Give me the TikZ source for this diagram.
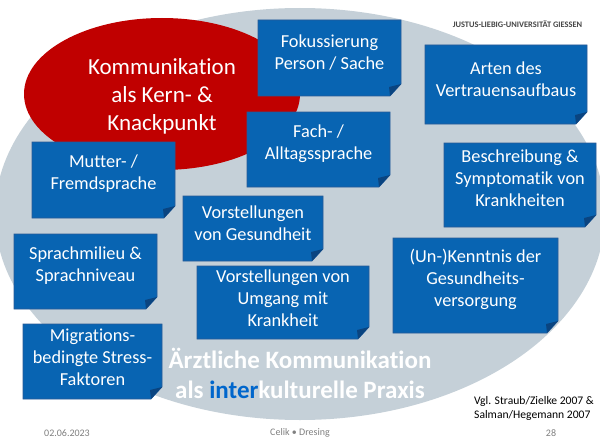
\documentclass[tikz,border=0pt]{standalone}
\usepackage{fontspec}
\setmainfont{Carlito}[Ligatures={NoCommon}]
\definecolor{bggrey}{RGB}{197,208,216}
\definecolor{kernred}{RGB}{192,0,0}
\definecolor{boxblue}{RGB}{8,100,178}
\definecolor{boxedge}{RGB}{40,90,150}
\definecolor{folddark}{RGB}{10,68,128}
\definecolor{interblue}{RGB}{0,102,204}
\definecolor{footgrey}{RGB}{128,128,128}
\definecolor{headgrey}{RGB}{70,70,70}
\tikzset{
  btext/.style={text=white, align=center, inner sep=0pt, font=\fontsize{18.3}{22}\selectfont},
  boxshape/.style={fill=boxblue, draw=boxedge, line width=0.6pt},
  foldshape/.style={fill=folddark},
  foot/.style={text=footgrey, inner sep=0pt, font=\fontsize{10}{12}\selectfont}
}
\newcommand{\foldbox}[7]{%
  \path[boxshape] (#2,#3) -- (#4,#3) -- (#4,#5-12) -- (#4-11,#5) -- (#2,#5) -- cycle;
  \path[foldshape] (#4,#5-12) -- (#4-12,#5-9) -- (#4-11,#5) -- cycle;
  \node[btext] (#1) at ({(#2+#4)/2},#6) {#7};
}
\begin{document}
\begin{tikzpicture}[x=1pt,y=-1pt]
\useasboundingbox (0,0) rectangle (600,444);
\fill[white] (0,0) rectangle (600,444);
\clip (0,0) rectangle (600,444);
% big grey ellipse
\fill[bggrey] (300,214) ellipse [x radius=305, y radius=206];
% red ellipse
\fill[kernred] (162,94) ellipse [x radius=138, y radius=76];
\node[text=white, align=center, inner sep=0pt, font=\fontsize{23}{28}\selectfont] (kern) at (162,96) {Kommunikation\\als Kern- \&\\Knackpunkt};
% boxes
\foldbox{fok}{258}{20}{401}{96}{53}{Fokussierung\\Person / Sache}
\foldbox{arten}{425}{45}{587}{124}{79}{Arten des\\Vertrauensaufbaus}
\foldbox{fach}{247}{112}{390}{187}{144}{Fach- /\\Alltagssprache}
\foldbox{besch}{444}{143}{596}{227}{178}{Beschreibung \&\\Symptomatik von\\Krankheiten}
\foldbox{mutter}{32}{142}{175}{218}{174}{Mutter- /\\Fremdsprache}
\foldbox{gesund}{183}{196}{323}{261}{223.5}{Vorstellungen\\von Gesundheit}
\foldbox{milieu}{14}{234}{157}{309}{265.5}{Sprachmilieu \&\\Sprachniveau}
\foldbox{umgang}{197}{266}{369}{339}{298}{Vorstellungen von\\Umgang mit\\Krankheit}
\foldbox{kennt}{393}{238}{558}{333}{279}{(Un-)Kenntnis der\\Gesundheits-\\versorgung}
\foldbox{migr}{23}{324}{162}{399}{357}{Migrations-\\bedingte Stress-\\Faktoren}
% title
\node[text=white, align=center, inner sep=0pt, font=\bfseries\fontsize{25}{30}\selectfont] (title) at (300,373)
  {Ärztliche Kommunikation\\als \textcolor{interblue}{inter}kulturelle Praxis};
% header
\node[text=headgrey, inner sep=0pt, font=\bfseries\fontsize{8.4}{10}\selectfont] (head) at (517.5,24) {JUSTUS-LIEBIG-UNIVERSITÄT GIESSEN};
% reference
\node[text=black, align=left, inner sep=0pt, anchor=west, font=\fontsize{11.6}{13.4}\selectfont] (ref) at (474,408.5) {Vgl. Straub/Zielke 2007 \&\\Salman/Hegemann 2007};
% footer
\node[foot] (date) at (67,433) {02.06.2023};
\node[foot] (auth) at (300,433) {Celik • Dresing};
\node[foot] (page) at (551,433) {28};
\end{tikzpicture}
\end{document}
